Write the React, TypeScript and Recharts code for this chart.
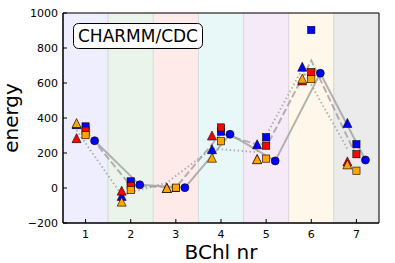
import React from 'react';
import { ComposedChart, XAxis, YAxis, Scatter, Line, ReferenceArea } from 'recharts';

const categories = [1, 2, 3, 4, 5, 6, 7];
const yTicks = [-200, 0, 200, 400, 600, 800, 1000];
const bandColors = ['#eeeeff', '#eaf4ea', '#ffeaea', '#e8f8f8', '#f6eaf8', '#fff8ea', '#ebebeb'];

// triangles, left of each category
const triBlue = [365, -45, 0, 222, 250, 693, 372];
const triRed = [285, -15, 0, 300, 165, 615, 152];
const triOrange = [371, -78, 0, 173, 165, 625, 135];
// squares, on the category
const sqBlue = [352, 38, 0, 322, 290, 903, 250];
const sqRed = [328, 12, 0, 346, 242, 662, 193];
const sqOrange = [302, -12, 2, 267, 168, 622, 99];
// circles, right of each category
const circles = [270, 18, 2, 307, 155, 656, 160];
// gray guide lines
const dottedLine = [330, -40, 30, 225, 205, 680, 225];
const dashedLine = [327, 13, 3, 311, 233, 729, 181];

const FONT = 'DejaVu Sans, sans-serif';
const LINE_GRAY = '#a0a0a0';

const toPoints = (vals: number[], off: number) =>
  categories.map((c, i) => ({ x: c + off, y: vals[i] }));

const fmt = (v: number) => (v < 0 ? `\u2212${Math.abs(v)}` : `${v}`);

const BottomTick = ({ x, y, payload }: any) => (
  <g>
    <line x1={x} y1={y} x2={x} y2={y - 4} stroke="#000" />
    <text x={x} y={y + 14.5} textAnchor="middle" fontSize={11} fontFamily={FONT} fill="#000">
      {payload.value}
    </text>
  </g>
);

const TopTick = ({ x, y }: any) => <line x1={x} y1={y} x2={x} y2={y + 4} stroke="#000" />;

const LeftTick = ({ x, y, payload }: any) => (
  <g>
    <line x1={x} y1={y} x2={x + 4} y2={y} stroke="#000" />
    <text x={x - 5} y={y + 4} textAnchor="end" fontSize={11} fontFamily={FONT} fill="#000">
      {fmt(payload.value)}
    </text>
  </g>
);

const RightTick = ({ x, y }: any) => <line x1={x} y1={y} x2={x - 4} y2={y} stroke="#000" />;

const triangle = (fill: string) => (p: any) => {
  const { cx, cy } = p;
  const h = 4.5;
  return (
    <polygon
      points={`${cx},${cy - h} ${cx - h},${cy + h} ${cx + h},${cy + h}`}
      fill={fill}
      stroke="#000"
      strokeWidth={0.6}
    />
  );
};

const square = (fill: string) => (p: any) => {
  const { cx, cy } = p;
  const h = 3.6;
  return <rect x={cx - h} y={cy - h} width={h * 2} height={h * 2} fill={fill} stroke="#000" strokeWidth={0.6} />;
};

const circle = (fill: string) => (p: any) => {
  const { cx, cy } = p;
  return <circle cx={cx} cy={cy} r={4} fill={fill} stroke="#000" strokeWidth={0.6} />;
};

export default function App() {
  return (
    <div style={{ position: 'absolute', left: 0, top: 0, width: 395, height: 263, background: '#fff' }}>
      <ComposedChart width={395} height={263} margin={{ top: 13, right: 16, left: 13, bottom: 0 }}>
        {categories.map((c, i) => (
          <ReferenceArea
            key={`band-${c}`}
            x1={c - 0.5}
            x2={c + 0.5}
            y1={-200}
            y2={1000}
            fill={bandColors[i]}
            fillOpacity={1}
            stroke="#000"
            strokeOpacity={0.08}
          />
        ))}
        <Line data={toPoints(dottedLine, -0.2)} dataKey="y" stroke={LINE_GRAY} strokeWidth={2} strokeDasharray="1.5 2.5" strokeOpacity={0.8} dot={false} isAnimationActive={false} />
        <Line data={toPoints(dashedLine, 0)} dataKey="y" stroke={LINE_GRAY} strokeWidth={2} strokeDasharray="7 3" strokeOpacity={0.8} dot={false} isAnimationActive={false} />
        <Line data={toPoints(circles, 0.2)} dataKey="y" stroke={LINE_GRAY} strokeWidth={2} strokeOpacity={0.8} dot={false} isAnimationActive={false} />
        <Scatter data={toPoints(triBlue, -0.2)} dataKey="y" shape={triangle('#0000ff')} isAnimationActive={false} />
        <Scatter data={toPoints(triRed, -0.2)} dataKey="y" shape={triangle('#ff0000')} isAnimationActive={false} />
        <Scatter data={toPoints(triOrange, -0.2)} dataKey="y" shape={triangle('#ffa500')} isAnimationActive={false} />
        <Scatter data={toPoints(sqBlue, 0)} dataKey="y" shape={square('#0000ff')} isAnimationActive={false} />
        <Scatter data={toPoints(sqRed, 0)} dataKey="y" shape={square('#ff0000')} isAnimationActive={false} />
        <Scatter data={toPoints(sqOrange, 0)} dataKey="y" shape={square('#ffa500')} isAnimationActive={false} />
        <Scatter data={toPoints(circles, 0.2)} dataKey="y" shape={circle('#0000ff')} isAnimationActive={false} />
        <ReferenceArea x1={0.5} x2={7.5} y1={-200} y2={1000} fill="none" stroke="#000" strokeWidth={1} />
        <XAxis
          type="number"
          dataKey="x"
          domain={[0.5, 7.5]}
          ticks={categories}
          height={40}
          tickSize={0}
          tickMargin={0}
          tickLine={false}
          axisLine={{ stroke: '#000' }}
          tick={<BottomTick />}
          interval={0}
        />
        <XAxis
          xAxisId="top"
          orientation="top"
          type="number"
          domain={[0.5, 7.5]}
          ticks={categories}
          height={0}
          tickSize={0}
          tickMargin={0}
          tickLine={false}
          axisLine={{ stroke: '#000' }}
          tick={<TopTick />}
          interval={0}
        />
        <YAxis
          type="number"
          dataKey="y"
          domain={[-200, 1000]}
          ticks={yTicks}
          width={50}
          tickSize={0}
          tickMargin={0}
          tickLine={false}
          axisLine={{ stroke: '#000' }}
          tick={<LeftTick />}
          interval={0}
        />
        <YAxis
          yAxisId="right"
          orientation="right"
          type="number"
          domain={[-200, 1000]}
          ticks={yTicks}
          width={0}
          tickSize={0}
          tickMargin={0}
          tickLine={false}
          axisLine={{ stroke: '#000' }}
          tick={<RightTick />}
          interval={0}
        />
      </ComposedChart>
      <svg width={395} height={263} style={{ position: 'absolute', left: 0, top: 0, pointerEvents: 'none' }}>
        <rect x={73.5} y={23.5} width={129} height={25} rx={5} fill="#fff" stroke="#000" />
        <text x={138} y={41.5} textAnchor="middle" fontSize={17} fontFamily={FONT} fill="#000">
          CHARMM/CDC
        </text>
        <text x={221} y={259} textAnchor="middle" fontSize={20} fontFamily={FONT} fill="#000">
          BChl nr
        </text>
        <text x={18} y={118} textAnchor="middle" fontSize={20} fontFamily={FONT} fill="#000" transform="rotate(-90 18 118)">
          energy
        </text>
      </svg>
    </div>
  );
}
